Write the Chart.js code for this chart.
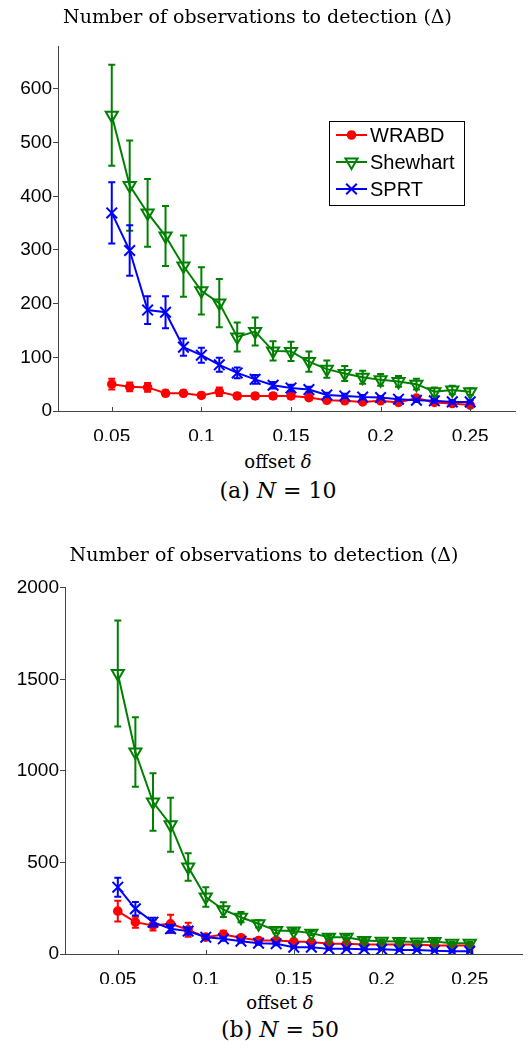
<!DOCTYPE html>
<html>
<head>
<meta charset="utf-8">
<script src="https://cdn.jsdelivr.net/npm/chart.js"></script>
<style>
    body { margin: 0; background: #fff; }
    #wrap { position: relative; width: 532px; height: 1047px; overflow: hidden; }
    .panel { position: absolute; left: 0; width: 532px; }
    .xlab, .cap {
        position: absolute; left: 0; width: 532px; text-align: center;
        font-family: "DejaVu Serif", serif; color: #000;
    }
    .xlab { font-size: 18px; }
    .cap { font-size: 22px; }
</style>
</head>
<body>
<div id="wrap">
    <div class="panel" style="top:0;height:441px"><canvas id="chartA"></canvas></div>
    <div class="xlab" style="left:12px;top:451px">offset <i>δ</i></div>
    <div class="cap" style="left:12px;top:478px">(a) <i>N</i> = 10</div>

    <div class="panel" style="top:538px;height:446px"><canvas id="chartB"></canvas></div>
    <div class="xlab" style="left:14px;top:992px">offset <i>δ</i></div>
    <div class="cap" style="left:14px;top:1017px">(b) <i>N</i> = 50</div>
</div>
<script>
// offsets on the x axis
const offsets = [0.05, 0.06, 0.07, 0.08, 0.09, 0.10, 0.11, 0.12, 0.13, 0.14, 0.15,
                 0.16, 0.17, 0.18, 0.19, 0.20, 0.21, 0.22, 0.23, 0.24, 0.25];
const xTickValues = [0.05, 0.1, 0.15, 0.2, 0.25];
const xTickLabels = ['0.05', '0.1', '0.15', '0.2', '0.25'];

// (a) N = 10
const wrabd10      = [50, 45, 44, 33, 33, 29, 36, 28, 28, 28, 28, 25, 20, 19, 17, 19, 16, 24, 16, 14, 11];
const wrabd10Err   = [10, 8, 8, 5, 5, 5, 8, 5, 5, 5, 5, 4, 3, 3, 3, 3, 3, 4, 3, 3, 3];
const shewhart10   = [551, 420, 369, 326, 270, 224, 201, 138, 148, 112, 111, 92, 78, 70, 63, 58, 55, 50, 36, 39, 36];
const shewhart10Err= [94, 84, 63, 56, 57, 44, 45, 27, 26, 18, 18, 19, 16, 14, 12, 11, 10, 10, 8, 8, 6];
const sprt10       = [369, 299, 188, 184, 119, 104, 86, 71, 59, 48, 43, 40, 30, 28, 26, 25, 22, 20, 19, 17, 17];
const sprt10Err    = [57, 47, 26, 30, 16, 14, 13, 10, 8, 6, 6, 5, 4, 4, 4, 3, 3, 3, 3, 3, 3];

// (b) N = 50
const wrabd50      = [234, 174, 156, 165, 132, 92, 107, 89, 74, 74, 68, 65, 56, 56, 52, 52, 52, 52, 46, 46, 46];
const wrabd50Err   = [57, 30, 28, 50, 38, 15, 20, 12, 10, 10, 8, 8, 8, 8, 8, 8, 8, 8, 8, 8, 8];
const shewhart50   = [1532, 1103, 830, 706, 475, 311, 242, 201, 165, 128, 125, 114, 92, 92, 74, 70, 68, 65, 68, 59, 59];
const shewhart50Err= [290, 190, 157, 147, 75, 53, 40, 28, 20, 15, 12, 12, 10, 10, 8, 8, 8, 8, 8, 7, 7];
const sprt50       = [365, 247, 174, 138, 125, 92, 83, 70, 59, 56, 37, 37, 28, 28, 26, 26, 22, 22, 18, 15, 15];
const sprt50Err    = [52, 37, 24, 20, 20, 12, 10, 8, 8, 8, 6, 6, 5, 5, 5, 5, 5, 5, 5, 5, 5];

const seriesNames = ['WRABD', 'Shewhart', 'SPRT'];
const titleText = 'Number of observations to detection (Δ)';

const AXIS = '#444';
const TICK_FONT = { family: '"Liberation Sans", Arial, sans-serif', size: 19 };

// series look (MATLAB style markers)
const styles = [
    { color: '#ff0000', pointStyle: 'circle', radius: 3.8, rotation: 0, fill: '#ff0000', order: 3 },
    { color: '#008000', pointStyle: 'triangle', radius: 7, rotation: 180, fill: 'rgba(0,0,0,0)', order: 2 },
    { color: '#0000ff', pointStyle: 'crossRot', radius: 7.5, rotation: 0, fill: 'rgba(0,0,0,0)', order: 1 }
];

function makeDataset(i, values, errors) {
    const s = styles[i];
    return {
        label: seriesNames[i],
        data: offsets.map((x, k) => ({ x: x, y: values[k] })),
        errors: errors,
        borderColor: s.color,
        backgroundColor: s.fill,
        borderWidth: 2,
        pointStyle: s.pointStyle,
        pointRotation: s.rotation,
        pointRadius: s.radius,
        pointBorderWidth: 2,
        pointBorderColor: s.color,
        pointBackgroundColor: s.fill,
        tension: 0,
        order: s.order
    };
}

// error bars drawn just before each dataset so layering follows the series
const errorBarPlugin = {
    id: 'errorBars',
    beforeDatasetDraw(chart, args) {
        const ds = chart.data.datasets[args.index];
        if (!ds.errors) return;
        const xs = chart.scales.x, ys = chart.scales.y;
        const ctx = chart.ctx;
        ctx.save();
        ctx.strokeStyle = ds.borderColor;
        ctx.lineWidth = 2;
        ds.data.forEach((p, k) => {
            const e = ds.errors[k];
            const px = xs.getPixelForValue(p.x);
            const top = ys.getPixelForValue(p.y + e);
            const bot = ys.getPixelForValue(Math.max(p.y - e, 0));
            ctx.beginPath();
            ctx.moveTo(px, top); ctx.lineTo(px, bot);
            ctx.moveTo(px - 3.5, top); ctx.lineTo(px + 3.5, top);
            ctx.moveTo(px - 3.5, bot); ctx.lineTo(px + 3.5, bot);
            ctx.stroke();
        });
        ctx.restore();
    }
};

// inward tick marks on the x axis
const innerTicksPlugin = {
    id: 'innerTicks',
    afterDraw(chart) {
        const xs = chart.scales.x;
        const ctx = chart.ctx;
        const b = chart.chartArea.bottom;
        ctx.save();
        ctx.strokeStyle = AXIS;
        ctx.lineWidth = 1;
        xTickValues.forEach(v => {
            const px = Math.round(xs.getPixelForValue(v)) + 0.5;
            ctx.beginPath();
            ctx.moveTo(px, b);
            ctx.lineTo(px, b - 4);
            ctx.stroke();
        });
        ctx.restore();
    }
};

// boxed legend like the MATLAB one
const boxLegendPlugin = {
    id: 'boxLegend',
    afterDraw(chart, args, opts) {
        if (!opts.show) return;
        const ctx = chart.ctx;
        const left = chart.chartArea.left + opts.dx;
        const top = chart.chartArea.top + opts.dy;
        const w = 135, h = 84;
        ctx.save();
        ctx.fillStyle = '#fff';
        ctx.fillRect(left, top, w, h);
        ctx.strokeStyle = '#000';
        ctx.lineWidth = 1;
        ctx.strokeRect(left + 0.5, top + 0.5, w, h);
        ctx.font = '20px "Liberation Sans", Arial, sans-serif';
        ctx.textBaseline = 'middle';
        seriesNames.forEach((name, i) => {
            const s = styles[i];
            const y = top + 14 + i * 27;
            ctx.strokeStyle = s.color;
            ctx.lineWidth = 2;
            ctx.beginPath();
            ctx.moveTo(left + 7, y);
            ctx.lineTo(left + 38, y);
            ctx.stroke();
            ctx.fillStyle = s.fill;
            Chart.helpers.drawPoint(ctx, {
                pointStyle: s.pointStyle,
                rotation: s.rotation,
                radius: s.radius,
                borderWidth: 2
            }, left + 22.5, y);
            ctx.fillStyle = '#000';
            ctx.fillText(name, left + 41, y + 1);
        });
        ctx.restore();
    }
};

function makeOptions(cfg) {
    return {
        responsive: true,
        maintainAspectRatio: false,
        animation: false,
        layout: { padding: { left: 0, right: cfg.padRight, top: 0, bottom: 0 } },
        plugins: {
            legend: { display: false },
            tooltip: { enabled: false },
            title: {
                display: true,
                text: titleText,
                color: '#000',
                font: { family: '"DejaVu Serif", serif', size: 19, weight: 'normal' },
                padding: { top: 7, bottom: cfg.titleGap }
            },
            boxLegend: { show: cfg.legend, dx: 271, dy: 75 }
        },
        scales: {
            x: {
                type: 'linear',
                min: 0.02,
                max: cfg.xMax,
                afterBuildTicks: (scale) => {
                    scale.ticks = xTickValues.map(v => ({ value: v }));
                },
                afterFit: (scale) => { scale.height = 30; },
                grid: { display: false },
                border: { display: true, color: AXIS, width: 1 },
                ticks: {
                    color: '#000',
                    font: TICK_FONT,
                    padding: 6,
                    maxRotation: 0,
                    autoSkip: false,
                    callback: (v) => xTickLabels[xTickValues.indexOf(v)]
                }
            },
            y: {
                min: 0,
                max: cfg.yMax,
                afterFit: (scale) => { scale.width = cfg.yWidth; },
                grid: { display: true, drawOnChartArea: false, drawTicks: true, tickLength: 5, color: AXIS },
                border: { display: true, color: AXIS, width: 1 },
                ticks: {
                    color: '#000',
                    font: TICK_FONT,
                    stepSize: cfg.yStep,
                    includeBounds: false,
                    padding: 1,
                    callback: (v) => String(v)
                }
            }
        }
    };
}

function initChart(id, sets, cfg) {
    const ctx = document.getElementById(id).getContext('2d');
    return new Chart(ctx, {
        type: 'line',
        data: {
            datasets: [
                makeDataset(0, sets[0], sets[1]),
                makeDataset(1, sets[2], sets[3]),
                makeDataset(2, sets[4], sets[5])
            ]
        },
        options: makeOptions(cfg),
        plugins: [errorBarPlugin, innerTicksPlugin, boxLegendPlugin]
    });
}

initChart('chartA',
    [wrabd10, wrabd10Err, shewhart10, shewhart10Err, sprt10, sprt10Err],
    { xMax: 0.275, yMax: 680, yStep: 100, yWidth: 58, padRight: 17, titleGap: 16.2, legend: true });

initChart('chartB',
    [wrabd50, wrabd50Err, shewhart50, shewhart50Err, sprt50, sprt50Err],
    { xMax: 0.28, yMax: 2000, yStep: 500, yWidth: 65, padRight: 4, titleGap: 20, legend: false });
</script>
</body>
</html>
